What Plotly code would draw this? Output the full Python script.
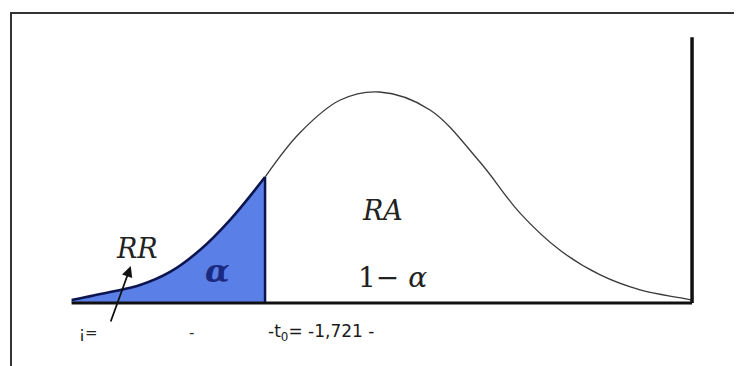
import plotly.graph_objects as go

# density curve (t units, height relative to the peak)
t_vals = [-4.63, -4.05, -3.60, -3.15, -2.70, -2.25, -1.721, -1.20, -0.59, 0.0,
          0.76, 1.51, 2.11, 2.71, 3.32, 3.92, 4.53, 4.70]
h_vals = [0.014, 0.052, 0.085, 0.147, 0.251, 0.393, 0.597, 0.806, 0.962, 1.0,
          0.915, 0.668, 0.427, 0.251, 0.133, 0.062, 0.024, 0.014]

t_crit = -1.721
h_crit = 0.597
t_right = 4.70
h_right_bar = 1.26

# page body adds an 8px margin, so the figure is drawn that much smaller
W, H, OFF = 742 - 8, 366 - 8, 8
PX_PER_T, PX_PER_H = 66.5, 211
X0_PX, BASE_PX = 379.5 - OFF, 303 - OFF

rr_t = [t for t in t_vals if t <= t_crit]
rr_h = h_vals[:len(rr_t)]
ra_t = [t for t in t_vals if t >= t_crit]
ra_h = h_vals[len(rr_t) - 1:]

fig = go.Figure()

# rejection region
fig.add_trace(go.Scatter(
    x=rr_t, y=rr_h, mode="lines", line=dict(color="#0c1550", width=2.6, shape="spline"),
    fill="tozeroy", fillcolor="#5a7fe6", hoverinfo="skip"))

# acceptance region
fig.add_trace(go.Scatter(
    x=ra_t, y=ra_h, mode="lines", line=dict(color="#3a3a3a", width=1.3, shape="spline"),
    hoverinfo="skip"))

fig.add_shape(type="line", x0=t_crit, x1=t_crit, y0=0, y1=h_crit,
              line=dict(color="#0c1550", width=2.5))
fig.add_shape(type="line", x0=t_vals[0], x1=t_right, y0=0, y1=0,
              line=dict(color="#111111", width=3))
fig.add_shape(type="line", x0=t_right, x1=t_right, y0=0, y1=h_right_bar,
              line=dict(color="#111111", width=3.5))

# outer frame
fig.add_shape(type="rect", xref="paper", yref="paper",
              x0=(11 - OFF) / W, x1=1.02, y0=-0.02, y1=1 - (13 - OFF) / H,
              line=dict(color="#333333", width=2))

serif = "DejaVu Serif"
fig.add_annotation(x=-3.65, y=0.26, text="<i>RR</i>", showarrow=False,
                   font=dict(family=serif, size=27, color="#222222"))
fig.add_annotation(x=-2.43, y=0.15, text="<b><i>α</i></b>", showarrow=False,
                   font=dict(family=serif, size=32, color="#1b2a80"))
fig.add_annotation(x=0.05, y=0.44, text="<i>RA</i>", showarrow=False,
                   font=dict(family=serif, size=27, color="#222222"))
fig.add_annotation(x=0.2, y=0.123, text="1− <i>α</i>", showarrow=False,
                   font=dict(family=serif, size=28, color="#222222"))

# arrow pointing at RR
fig.add_annotation(x=-3.74, y=0.175, ax=-4.05, ay=-0.095, axref="x", ayref="y",
                   text="", showarrow=True, arrowhead=2, arrowsize=1.2,
                   arrowwidth=1.8, arrowcolor="#111111")

sans = "DejaVu Sans"
fig.add_annotation(x=-4.38, y=-0.142, text="¡=", showarrow=False,
                   font=dict(family=sans, size=15, color="#222222"))
fig.add_annotation(x=-2.82, y=-0.142, text="-", showarrow=False,
                   font=dict(family=sans, size=15, color="#333333"))
fig.add_annotation(x=-1.70, y=-0.142, text="-t<sub>0</sub>= -1,721 -", showarrow=False,
                   xanchor="left", font=dict(family=sans, size=17, color="#1a1a1a"))

fig.update_xaxes(range=[-X0_PX / PX_PER_T, (W - X0_PX) / PX_PER_T], visible=False)
fig.update_yaxes(range=[-(H - BASE_PX) / PX_PER_H, BASE_PX / PX_PER_H], visible=False)
fig.update_layout(width=W, height=H, margin=dict(l=0, r=0, t=0, b=0),
                  showlegend=False, plot_bgcolor="white", paper_bgcolor="white")

fig.write_html("out.html")
